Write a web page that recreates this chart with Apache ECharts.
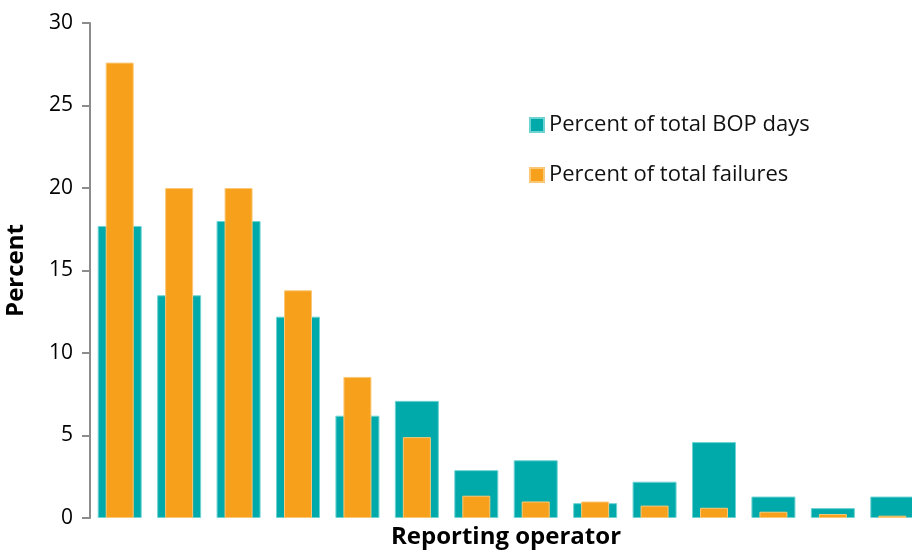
<!DOCTYPE html>
<html>
<head>
<meta charset="utf-8">
<script src="https://cdn.jsdelivr.net/npm/echarts@6/dist/echarts.min.js"></script>
<style>
  html, body { margin: 0; padding: 0; background: #fff; }
  #main { width: 912px; height: 555px; }
</style>
</head>
<body>
<div id="main"></div>
<script>
// 14 reporting operators, unnamed in the source chart
const operators = ["1", "2", "3", "4", "5", "6", "7", "8", "9", "10", "11", "12", "13", "14"];
const bopDays = [17.7, 13.5, 18.0, 12.2, 6.2, 7.1, 2.9, 3.5, 0.9, 2.2, 4.6, 1.3, 0.6, 1.3];
const failures = [27.6, 20.0, 20.0, 13.8, 8.55, 4.9, 1.35, 1.0, 1.0, 0.75, 0.62, 0.38, 0.24, 0.14];
const yTicks = [0, 5, 10, 15, 20, 25, 30];

let chart = echarts.init(document.getElementById("main"));

const font = "'Open Sans', sans-serif";

let option = {
  animation: false,
  textStyle: { fontFamily: font },
  grid: { left: 90, right: -10, top: 23, bottom: 37, containLabel: false, outerBoundsMode: "none" },
  legend: {
    orient: "vertical",
    left: 529,
    top: 114,
    padding: 0,
    itemGap: 28,
    itemWidth: 14,
    itemHeight: 14,
    icon: "rect",
    textStyle: { fontSize: 22, color: "#111", fontFamily: font },
    data: ["Percent of total BOP days", "Percent of total failures"]
  },
  xAxis: [
    {
      type: "category",
      data: operators,
      axisLine: { show: false },
      axisTick: { show: false },
      axisLabel: { show: false },
      name: "Reporting operator",
      nameLocation: "middle",
      nameGap: 7,
      nameTextStyle: { fontSize: 24, fontWeight: "bold", color: "#000", fontFamily: font, verticalAlign: "top" }
    },
    {
      type: "category",
      data: operators,
      show: false
    }
  ],
  yAxis: {
    type: "value",
    min: yTicks[0],
    max: yTicks[yTicks.length - 1],
    interval: 5,
    splitLine: { show: false },
    axisLine: { show: true, lineStyle: { color: "#8c8c8c", width: 2 } },
    axisTick: { show: true, length: 8, lineStyle: { color: "#8c8c8c", width: 2 } },
    axisLabel: { fontSize: 21, color: "#000", margin: 17, fontFamily: font },
    name: "Percent",
    nameLocation: "middle",
    nameGap: 62,
    nameTextStyle: { fontSize: 24, fontWeight: "bold", color: "#000", fontFamily: font }
  },
  series: [
    {
      name: "Percent of total BOP days",
      type: "bar",
      xAxisIndex: 0,
      data: bopDays,
      barWidth: 44,
      itemStyle: { color: "#00a9aa", borderColor: "#6fd3d3", borderWidth: 1 }
    },
    {
      name: "Percent of total failures",
      type: "bar",
      xAxisIndex: 1,
      data: failures,
      barWidth: 28,
      itemStyle: { color: "#f6a01c", borderColor: "#fbc878", borderWidth: 1 }
    }
  ]
};

option && chart.setOption(option);
</script>
</body>
</html>
